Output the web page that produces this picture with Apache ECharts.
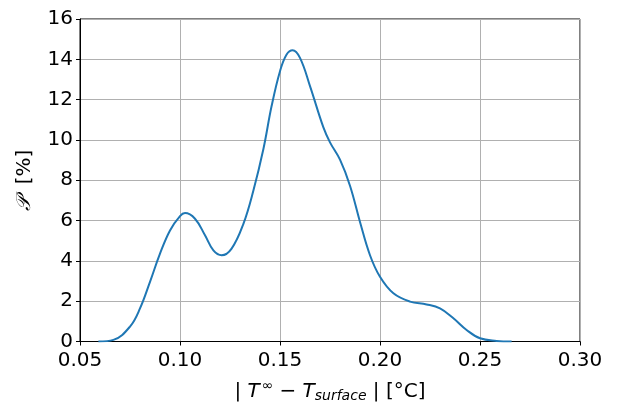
<!DOCTYPE html>
<html><head><meta charset="utf-8">
<script src="https://cdn.jsdelivr.net/npm/echarts@6/dist/echarts.min.js"></script>
<style>html,body{margin:0;padding:0;background:#fff}#c{width:618px;height:408px}</style>
</head><body><div id="c"></div>
<script>
var xValues = [0.0592,0.0667,0.075,0.08,0.085,0.09,0.095,0.10,0.1025,0.1075,0.1125,0.1167,0.1208,0.1258,0.1317,0.1367,0.1417,0.1458,0.15,0.1533,0.1563,0.16,0.165,0.1717,0.175,0.18,0.185,0.19,0.195,0.20,0.2067,0.215,0.2233,0.23,0.2367,0.2433,0.25,0.2583,0.2658];
var yValues = [0,0.08,0.74,1.64,2.96,4.36,5.51,6.22,6.37,6.09,5.27,4.52,4.28,4.61,5.84,7.49,9.55,11.68,13.41,14.24,14.45,14.07,12.67,10.62,9.88,9.02,7.73,5.93,4.28,3.21,2.39,1.98,1.84,1.64,1.15,0.57,0.16,0.03,0];
var xTicks = ['0.05','0.10','0.15','0.20','0.25','0.30'];
var yTicks = ['0','2','4','6','8','10','12','14','16'];

var pts = xValues.map(function(x,i){return [x,yValues[i]];});
var font = 'DejaVu Sans';
var chart = echarts.init(document.getElementById('c'));
chart.setOption({
  animation:false,
  grid:{left:80,top:19,right:38,bottom:65,show:true,borderColor:'#000',borderWidth:1,backgroundColor:'transparent'},
  xAxis:{type:'value',min:0.05,max:0.30,interval:0.05,
    axisLine:{show:true,onZero:false,lineStyle:{color:'#000',width:1}},
    axisTick:{show:true,inside:false,length:4,lineStyle:{color:'#000'}},
    axisLabel:{color:'#000',fontFamily:font,fontSize:20,margin:9,formatter:function(v){var i=Math.round((v-0.05)/0.05);return xTicks[i]!==undefined?xTicks[i]:'';}},
    splitLine:{show:true,lineStyle:{color:'#b0b0b0',width:1}},
    name:'{n|| }{i|T}{s|∞}{n|− }{i|T}{sub|surface}{n| | [°C]}',
    nameLocation:'middle',nameGap:38,
    nameTextStyle:{color:'#000',fontFamily:font,fontSize:20,
      rich:{n:{fontFamily:font,fontSize:20,color:'#000'},
            i:{fontFamily:font,fontSize:20,fontStyle:'italic',color:'#000'},
            s:{fontFamily:font,fontSize:14,color:'#000',padding:[0,6,10,2]},
            sub:{fontFamily:font,fontSize:14,fontStyle:'italic',color:'#000',padding:[9,0,0,0]}}}
  },
  yAxis:{type:'value',min:0,max:16,interval:2,
    axisLine:{show:true,lineStyle:{color:'#000',width:1}},
    axisTick:{show:true,inside:false,length:4,lineStyle:{color:'#000'}},
    axisLabel:{color:'#000',fontFamily:font,fontSize:20,margin:7,formatter:function(v){var i=Math.round(v/2);return yTicks[i]!==undefined?yTicks[i]:'';}},
    splitLine:{show:true,lineStyle:{color:'#b0b0b0',width:1}},
    name:'{p|𝒫}  [%]',nameLocation:'middle',nameGap:45,
    nameTextStyle:{color:'#000',fontFamily:font,fontSize:20,rich:{p:{fontFamily:'DejaVu Serif',fontSize:20,fontStyle:'italic',color:'#000'}}}
  },
  series:[{type:'line',data:pts,smooth:0.4,symbol:'none',lineStyle:{color:'#1f77b4',width:2},clip:true}]
});
</script></body></html>
